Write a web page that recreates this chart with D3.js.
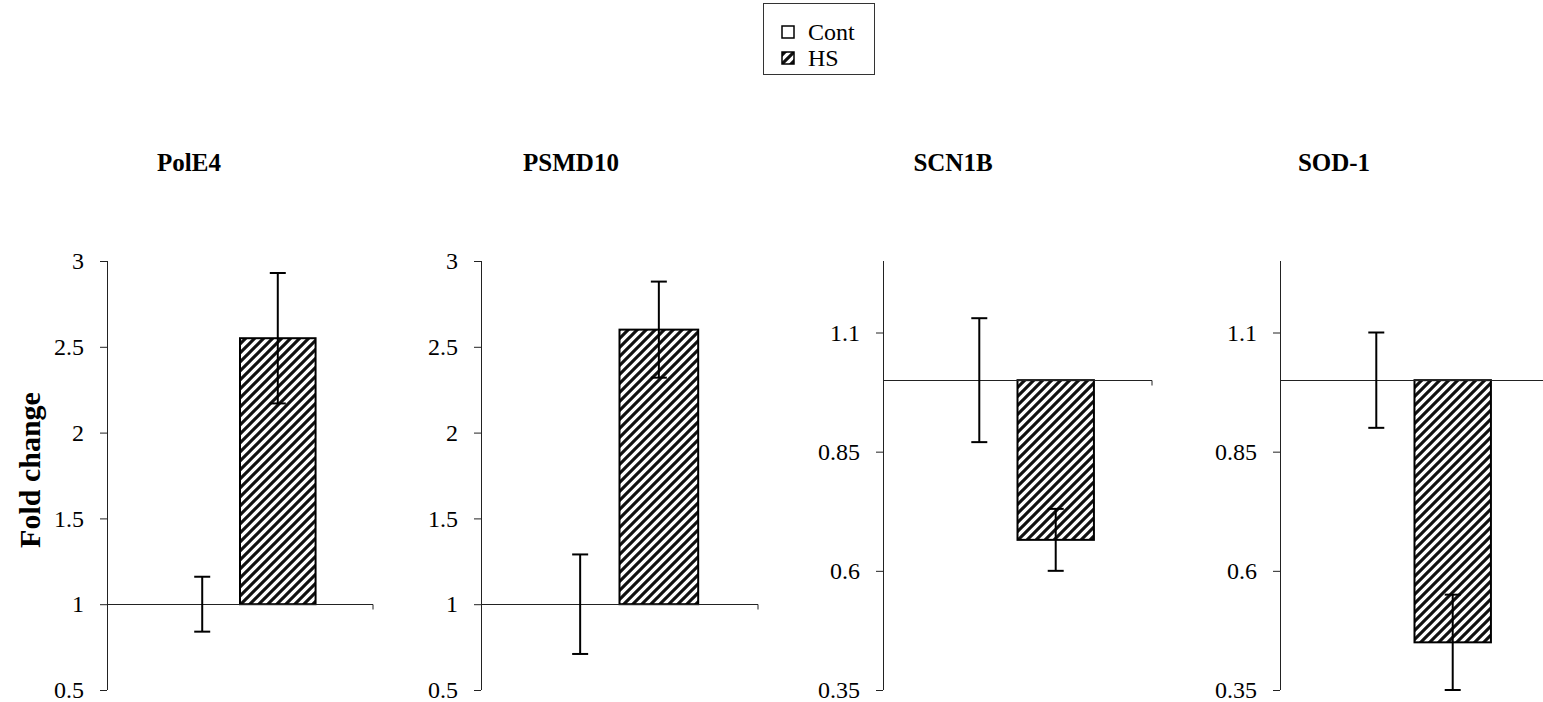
<!DOCTYPE html>
<html>
<head>
<meta charset="utf-8">
<script src="https://cdn.jsdelivr.net/npm/d3@7/dist/d3.min.js"></script>
<style>
  html, body { margin: 0; padding: 0; background: #fff; }
  svg { display: block; }
  text { font-family: "Liberation Serif", "Times New Roman", serif; fill: #000; }
</style>
</head>
<body>
<svg id="chart" width="1543" height="702"></svg>
<script>
// Gene panels and the two conditions
const genes = ["PolE4", "PSMD10", "SCN1B", "SOD-1"];
const series = ["Cont", "HS"];

// Mean fold change and error (one value per gene)
const contMean = [1, 1, 1, 1];
const contErr  = [0.16, 0.29, 0.13, 0.10];
const hsMean   = [2.55, 2.60, 0.665, 0.45];
const hsErr    = [0.38, 0.28, 0.065, 0.10];

// Value axis settings per panel
const axisMin  = [0.5, 0.5, 0.35, 0.35];
const axisMax  = [3, 3, 1.25, 1.25];
const tickLabels = [
  ["0.5", "1", "1.5", "2", "2.5", "3"],
  ["0.5", "1", "1.5", "2", "2.5", "3"],
  ["0.35", "0.6", "0.85", "1.1"],
  ["0.35", "0.6", "0.85", "1.1"]
];
const crossAt = 1; // category axis crosses the value axis at 1

// Layout
const panelLeft  = [107, 481, 883, 1280];
const panelWidth = [266, 277, 269, 269];
const titleX     = [189, 571, 953, 1334];
const plotTop = 261, plotBottom = 690;

const svg = d3.select("#chart");

// Diagonal hatch fill for HS bars
const defs = svg.append("defs");
const pat = defs.append("pattern")
  .attr("id", "hatch")
  .attr("patternUnits", "userSpaceOnUse")
  .attr("width", 9).attr("height", 9);
pat.append("rect").attr("width", 9).attr("height", 9).attr("fill", "#fff");
pat.append("path")
  .attr("d", "M-2,2 L2,-2 M0,9 L9,0 M7,11 L11,7")
  .attr("stroke", "#111").attr("stroke-width", 3.1);

const fills = { Cont: "#fff", HS: "url(#hatch)" };

genes.forEach((gene, i) => {
  const g = svg.append("g").attr("transform", `translate(${panelLeft[i]},0)`);
  const W = panelWidth[i];

  const y = d3.scaleLinear().domain([axisMin[i], axisMax[i]]).range([plotBottom, plotTop]);
  const x = d3.scaleBand().domain(series).range([0, W]).paddingInner(0).paddingOuter(0.76);

  const tickVals = tickLabels[i].map(Number);

  // value axis
  const yAxis = d3.axisLeft(y)
    .tickValues(tickVals)
    .tickFormat((d, k) => tickLabels[i][k])
    .tickSizeInner(7).tickSizeOuter(0).tickPadding(16);
  const ya = g.append("g").call(yAxis);
  ya.attr("font-family", null).attr("font-size", null);
  ya.select(".domain").attr("stroke", "#222").attr("d", `M0.5,${plotTop}V${plotBottom}`);
  ya.selectAll(".tick line").attr("stroke", "#222");
  ya.selectAll(".tick text").attr("font-size", 24).attr("font-family", "Liberation Serif");

  // bars (from the crossing value)
  const rows = series.map((s, k) => ({
    s,
    mean: k === 0 ? contMean[i] : hsMean[i],
    err:  k === 0 ? contErr[i]  : hsErr[i]
  }));

  g.selectAll("rect.bar").data(rows.filter(r => r.mean !== crossAt)).enter()
    .append("rect")
    .attr("class", "bar")
    .attr("x", d => x(d.s))
    .attr("width", x.bandwidth())
    .attr("y", d => Math.min(y(d.mean), y(crossAt)))
    .attr("height", d => Math.abs(y(d.mean) - y(crossAt)))
    .attr("fill", d => fills[d.s])
    .attr("stroke", "#000").attr("stroke-width", 2);

  // category axis line at the crossing value
  const yc = Math.round(y(crossAt)) + 0.5;
  g.append("path")
    .attr("d", `M0,${yc}H${W}V${yc + 5}`)
    .attr("fill", "none").attr("stroke", "#222").attr("stroke-width", 1);

  // error bars
  const cap = 8;
  const eb = g.selectAll("g.err").data(rows).enter().append("g").attr("class", "err");
  eb.append("line")
    .attr("x1", d => x(d.s) + x.bandwidth() / 2)
    .attr("x2", d => x(d.s) + x.bandwidth() / 2)
    .attr("y1", d => y(d.mean + d.err))
    .attr("y2", d => y(d.mean - d.err));
  eb.append("line")
    .attr("x1", d => x(d.s) + x.bandwidth() / 2 - cap)
    .attr("x2", d => x(d.s) + x.bandwidth() / 2 + cap)
    .attr("y1", d => y(d.mean + d.err))
    .attr("y2", d => y(d.mean + d.err));
  eb.append("line")
    .attr("x1", d => x(d.s) + x.bandwidth() / 2 - cap)
    .attr("x2", d => x(d.s) + x.bandwidth() / 2 + cap)
    .attr("y1", d => y(d.mean - d.err))
    .attr("y2", d => y(d.mean - d.err));
  eb.selectAll("line").attr("stroke", "#000").attr("stroke-width", 2);

  // panel title
  svg.append("text")
    .attr("x", titleX[i]).attr("y", 171)
    .attr("text-anchor", "middle")
    .attr("font-size", 25).attr("font-weight", "bold")
    .text(gene);
});

// value axis title
svg.append("text")
  .attr("transform", "translate(40,470) rotate(-90)")
  .attr("text-anchor", "middle")
  .attr("font-size", 30).attr("font-weight", "bold")
  .text("Fold change");

// legend
const lg = svg.append("g");
lg.append("rect").attr("x", 763.5).attr("y", 3.5).attr("width", 111).attr("height", 71)
  .attr("fill", "#fff").attr("stroke", "#333").attr("stroke-width", 1);
series.forEach((s, k) => {
  const cy = 32 + k * 26;
  lg.append("rect").attr("x", 782).attr("y", cy - 6).attr("width", 12).attr("height", 12)
    .attr("fill", fills[s]).attr("stroke", "#000").attr("stroke-width", 1.5);
  lg.append("text").attr("x", 808).attr("y", cy + 8).attr("font-size", 24).text(s);
});
</script>
</body>
</html>
